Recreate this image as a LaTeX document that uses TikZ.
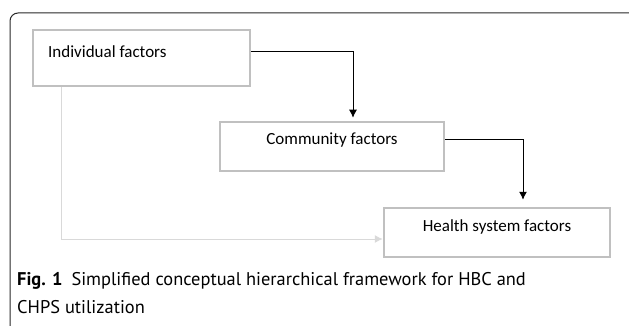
\documentclass[tikz,border=0pt]{standalone}
\usepackage{fontspec}
\setmainfont{Carlito}
\newfontfamily\capfont{PT Sans}
\usepackage{tikz}
\usetikzlibrary{arrows.meta,positioning,calc}
\definecolor{boxgray}{RGB}{192, 192, 192}
\definecolor{linkgray}{RGB}{217, 217, 217}
\definecolor{framegray}{RGB}{40, 40, 40}

\begin{document}
\begin{tikzpicture}[
        x=1pt, y=-1pt,
        factor/.style={draw=boxgray, line width=2.5pt, rectangle, inner sep=0pt},
        lbl/.style={inner sep=0pt, font=\fontsize{17}{20}\selectfont},
        captxt/.style={inner sep=0pt, anchor=base west, font=\capfont\fontsize{18.4}{21}\selectfont},
        arr/.style={line width=1pt, -{Latex[length=8pt,width=8pt]}, color=black},
        grayarr/.style={line width=1pt, -{Latex[length=8pt,width=8pt]}, color=linkgray},
        frame/.style={line width=1pt, color=framegray, rounded corners=8pt}
    ]
        \useasboundingbox (0,0) rectangle (629,326);
        \clip (0,0) rectangle (629,326);

        % Outer frame
        \draw[frame] (640,13) -- (10,13) -- (10,334) -- (40,334);

        % Factor boxes
        \node[factor, minimum width=217pt, minimum height=56pt] (indiv) at (141.5, 58) {};
        \node[factor, minimum width=224pt, minimum height=49pt] (comm) at (332, 146.5) {};
        \node[factor, minimum width=226pt, minimum height=49pt] (health) at (497, 232.5) {};

        % Box labels
        \node[lbl, anchor=west] (tIndiv) at (48, 52) {Individual factors};
        \node[lbl] (tComm) at (332, 140) {Community factors};
        \node[lbl] (tHealth) at (497, 227) {Health system factors};

        % Connections
        \draw[arr, shorten >=3pt] (tIndiv -| indiv.east) -| ([xshift=21pt]comm.north);
        \draw[arr, shorten >=7pt] (tComm -| comm.east) -| ([xshift=26pt]health.north);
        \draw[grayarr] ([xshift=30pt]indiv.south west) |- ([yshift=-6.5pt]health.west);

        % Caption
        \node[captxt] (cap1) at (17, 285) {\textbf{Fig. 1}\hspace{9pt}Simplified conceptual hierarchical framework for HBC and};
        \node[captxt] (cap2) at (17, 313) {CHPS utilization};
    \end{tikzpicture}
\end{document}
